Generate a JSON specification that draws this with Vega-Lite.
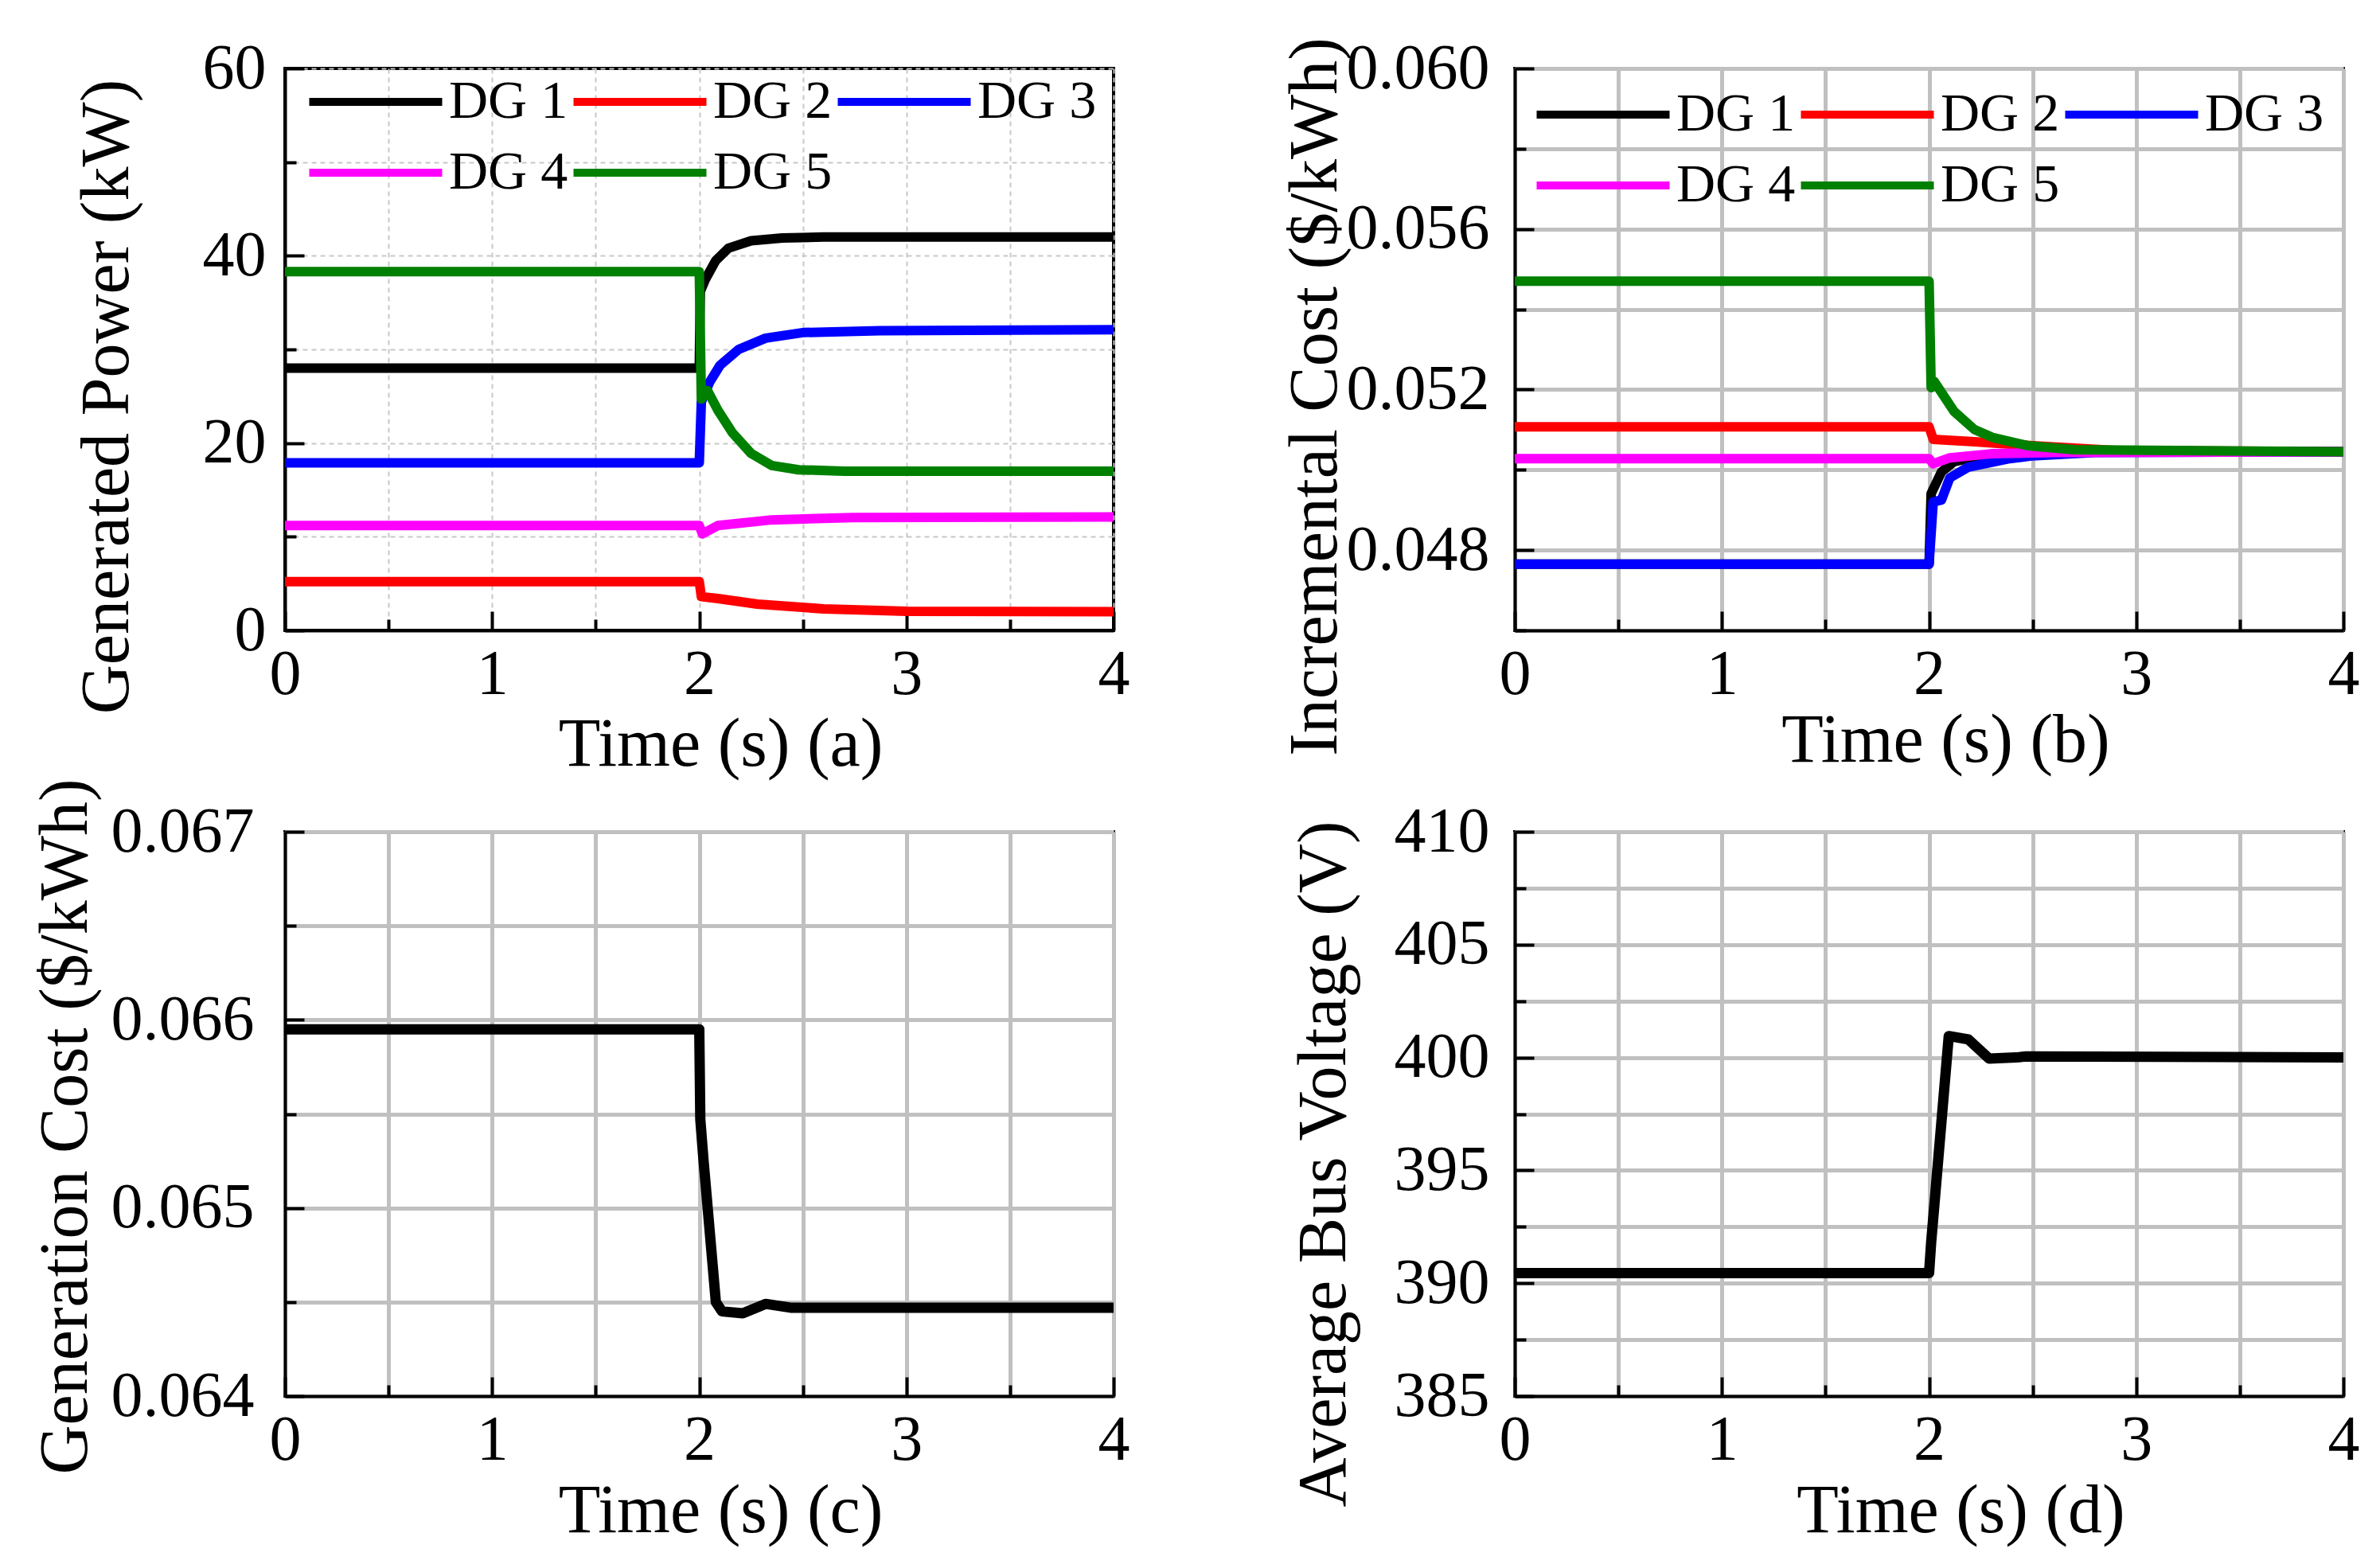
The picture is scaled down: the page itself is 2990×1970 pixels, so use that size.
{
  "$schema": "https://vega.github.io/schema/vega-lite/v6.json",
  "background": "white",
  "autosize": {"type": "none"},
  "padding": {"left": 358, "top": 86, "right": 2632, "bottom": 1884},
  "datasets": {
    "power": [
      {"t": 0, "dg": "DG 1", "v": 28.0}, {"t": 2.0, "dg": "DG 1", "v": 28.0}, {"t": 2.005, "dg": "DG 1", "v": 36.2},
      {"t": 2.03, "dg": "DG 1", "v": 37.5}, {"t": 2.08, "dg": "DG 1", "v": 39.5}, {"t": 2.14, "dg": "DG 1", "v": 40.8},
      {"t": 2.25, "dg": "DG 1", "v": 41.6}, {"t": 2.4, "dg": "DG 1", "v": 41.9}, {"t": 2.6, "dg": "DG 1", "v": 42.0},
      {"t": 4, "dg": "DG 1", "v": 42.0},
      {"t": 0, "dg": "DG 2", "v": 5.2}, {"t": 2.0, "dg": "DG 2", "v": 5.2}, {"t": 2.01, "dg": "DG 2", "v": 3.6},
      {"t": 2.09, "dg": "DG 2", "v": 3.4}, {"t": 2.28, "dg": "DG 2", "v": 2.8}, {"t": 2.6, "dg": "DG 2", "v": 2.3},
      {"t": 3.0, "dg": "DG 2", "v": 2.05}, {"t": 4, "dg": "DG 2", "v": 2.0},
      {"t": 0, "dg": "DG 3", "v": 17.9}, {"t": 2.0, "dg": "DG 3", "v": 17.9}, {"t": 2.01, "dg": "DG 3", "v": 24.4},
      {"t": 2.05, "dg": "DG 3", "v": 26.5}, {"t": 2.1, "dg": "DG 3", "v": 28.3}, {"t": 2.19, "dg": "DG 3", "v": 30.0},
      {"t": 2.32, "dg": "DG 3", "v": 31.2}, {"t": 2.5, "dg": "DG 3", "v": 31.8}, {"t": 2.87, "dg": "DG 3", "v": 32.0},
      {"t": 4, "dg": "DG 3", "v": 32.1},
      {"t": 0, "dg": "DG 4", "v": 11.2}, {"t": 2.0, "dg": "DG 4", "v": 11.2}, {"t": 2.015, "dg": "DG 4", "v": 10.3},
      {"t": 2.09, "dg": "DG 4", "v": 11.2}, {"t": 2.35, "dg": "DG 4", "v": 11.8}, {"t": 2.74, "dg": "DG 4", "v": 12.05},
      {"t": 4, "dg": "DG 4", "v": 12.1},
      {"t": 0, "dg": "DG 5", "v": 38.3}, {"t": 2.0, "dg": "DG 5", "v": 38.3}, {"t": 2.01, "dg": "DG 5", "v": 24.7},
      {"t": 2.04, "dg": "DG 5", "v": 25.6}, {"t": 2.09, "dg": "DG 5", "v": 23.5}, {"t": 2.16, "dg": "DG 5", "v": 21.1},
      {"t": 2.25, "dg": "DG 5", "v": 18.9}, {"t": 2.35, "dg": "DG 5", "v": 17.6}, {"t": 2.48, "dg": "DG 5", "v": 17.15},
      {"t": 2.7, "dg": "DG 5", "v": 17.0}, {"t": 4, "dg": "DG 5", "v": 17.0}
    ],
    "icost": [
      {"t": 0, "dg": "DG 1", "v": 0.04765}, {"t": 2.0, "dg": "DG 1", "v": 0.04765}, {"t": 2.01, "dg": "DG 1", "v": 0.04941},
      {"t": 2.06, "dg": "DG 1", "v": 0.04995}, {"t": 2.12, "dg": "DG 1", "v": 0.0502}, {"t": 2.25, "dg": "DG 1", "v": 0.05035},
      {"t": 2.5, "dg": "DG 1", "v": 0.05045}, {"t": 4, "dg": "DG 1", "v": 0.05045},
      {"t": 0, "dg": "DG 2", "v": 0.05107}, {"t": 2.0, "dg": "DG 2", "v": 0.05107}, {"t": 2.02, "dg": "DG 2", "v": 0.05076},
      {"t": 2.22, "dg": "DG 2", "v": 0.0507}, {"t": 2.5, "dg": "DG 2", "v": 0.0506}, {"t": 2.9, "dg": "DG 2", "v": 0.05048},
      {"t": 4, "dg": "DG 2", "v": 0.05045},
      {"t": 0, "dg": "DG 3", "v": 0.04765}, {"t": 2.0, "dg": "DG 3", "v": 0.04765}, {"t": 2.02, "dg": "DG 3", "v": 0.0492},
      {"t": 2.06, "dg": "DG 3", "v": 0.04925}, {"t": 2.1, "dg": "DG 3", "v": 0.0498}, {"t": 2.19, "dg": "DG 3", "v": 0.05007},
      {"t": 2.38, "dg": "DG 3", "v": 0.05027}, {"t": 2.5, "dg": "DG 3", "v": 0.05035}, {"t": 2.8, "dg": "DG 3", "v": 0.05043},
      {"t": 4, "dg": "DG 3", "v": 0.05045},
      {"t": 0, "dg": "DG 4", "v": 0.05028}, {"t": 2.0, "dg": "DG 4", "v": 0.05028}, {"t": 2.02, "dg": "DG 4", "v": 0.05015},
      {"t": 2.1, "dg": "DG 4", "v": 0.0503}, {"t": 2.3, "dg": "DG 4", "v": 0.0504}, {"t": 2.6, "dg": "DG 4", "v": 0.05043},
      {"t": 4, "dg": "DG 4", "v": 0.05045},
      {"t": 0, "dg": "DG 5", "v": 0.0547}, {"t": 2.0, "dg": "DG 5", "v": 0.0547}, {"t": 2.01, "dg": "DG 5", "v": 0.05205},
      {"t": 2.025, "dg": "DG 5", "v": 0.0522}, {"t": 2.12, "dg": "DG 5", "v": 0.05146}, {"t": 2.22, "dg": "DG 5", "v": 0.0510},
      {"t": 2.31, "dg": "DG 5", "v": 0.0508}, {"t": 2.48, "dg": "DG 5", "v": 0.0506}, {"t": 2.7, "dg": "DG 5", "v": 0.0505},
      {"t": 4, "dg": "DG 5", "v": 0.05045}
    ],
    "gcost": [
      {"t": 0, "v": 0.06595}, {"t": 2.0, "v": 0.06595}, {"t": 2.005, "v": 0.06547}, {"t": 2.02, "v": 0.06526},
      {"t": 2.08, "v": 0.0645}, {"t": 2.11, "v": 0.06445}, {"t": 2.21, "v": 0.06444}, {"t": 2.32, "v": 0.06449},
      {"t": 2.44, "v": 0.06447}, {"t": 4, "v": 0.06447}
    ],
    "voltage": [
      {"t": 0, "v": 390.45}, {"t": 2.0, "v": 390.45}, {"t": 2.01, "v": 391.8}, {"t": 2.095, "v": 400.95},
      {"t": 2.19, "v": 400.8}, {"t": 2.29, "v": 399.95}, {"t": 2.42, "v": 400.0}, {"t": 2.47, "v": 400.05},
      {"t": 4, "v": 400.0}
    ]
  },
  "columns": 2,
  "bounds": "flush",
  "spacing": {"row": 253, "column": 504},
  "resolve": {"scale": {"color": "independent"}, "legend": {"color": "independent"}},
  "concat": [
    {
      "width": 1041,
      "height": 706,
      "data": {"name": "power"},
      "mark": {"type": "line", "strokeWidth": 12},
      "encoding": {
        "x": {
          "field": "t", "type": "quantitative",
          "scale": {"domain": [0, 4], "nice": false, "zero": false},
          "axis": {"title": "Time (s)  (a)", "titleX": 547, "titleY": 143,
                   "values": [0, 0.5, 1, 1.5, 2, 2.5, 3, 3.5, 4],
                   "gridDash": [6, 5], "gridWidth": 2, "gridColor": "#c8c8c8"}
        },
        "y": {
          "field": "v", "type": "quantitative",
          "scale": {"domain": [0, 60], "nice": false, "zero": false},
          "axis": {"title": "Generated Power (kW)", "titleX": -224, "titleY": 412,
                   "values": [0, 10, 20, 30, 40, 50, 60],
                   "labelExpr": "datum.value % 20 == 0 ? format(datum.value, 'd') : ''",
                   "tickSize": {"condition": {"test": "datum.value % 20 == 0", "value": -24}, "value": -14},
                   "labelPadding": 48,
                   "gridDash": [6, 5], "gridWidth": 2, "gridColor": "#c8c8c8"}
        },
        "color": {
          "field": "dg", "type": "nominal",
          "scale": {"domain": ["DG 1", "DG 2", "DG 3", "DG 4", "DG 5"],
                    "range": ["#000000", "#ff0000", "#0000ff", "#ff00ff", "#008000"]},
          "legend": {"orient": "none", "legendX": 67, "legendY": -5}
        }
      }
    },
    {
      "width": 1041,
      "height": 706,
      "data": {"name": "icost"},
      "mark": {"type": "line", "strokeWidth": 12},
      "encoding": {
        "x": {
          "field": "t", "type": "quantitative",
          "scale": {"domain": [0, 4], "nice": false, "zero": false},
          "axis": {"title": "Time (s) (b)", "titleX": 541, "titleY": 138,
                   "values": [0, 0.5, 1, 1.5, 2, 2.5, 3, 3.5, 4]}
        },
        "y": {
          "field": "v", "type": "quantitative",
          "scale": {"domain": [0.046, 0.06], "nice": false, "zero": false},
          "axis": {"title": "Incremental Cost ($/kWh)", "titleX": -251, "titleY": 412,
                   "values": [0.046, 0.048, 0.05, 0.052, 0.054, 0.056, 0.058, 0.06],
                   "labelExpr": "indexof(['0.048','0.052','0.056','0.060'], format(datum.value, '.3f')) >= 0 ? format(datum.value, '.3f') : ''",
                   "tickSize": {"condition": {"test": "indexof(['0.048','0.052','0.056','0.060'], format(datum.value, '.3f')) >= 0", "value": -24}, "value": -14}}
        },
        "color": {
          "field": "dg", "type": "nominal",
          "scale": {"domain": ["DG 1", "DG 2", "DG 3", "DG 4", "DG 5"],
                    "range": ["#000000", "#ff0000", "#0000ff", "#ff00ff", "#008000"]},
          "legend": {"orient": "none", "legendX": 64, "legendY": 11}
        }
      }
    },
    {
      "width": 1041,
      "height": 709,
      "data": {"name": "gcost"},
      "mark": {"type": "line", "strokeWidth": 13, "color": "black"},
      "encoding": {
        "x": {
          "field": "t", "type": "quantitative",
          "scale": {"domain": [0, 4], "nice": false, "zero": false},
          "axis": {"title": "Time (s) (c)", "titleX": 547, "titleY": 144,
                   "values": [0, 0.5, 1, 1.5, 2, 2.5, 3, 3.5, 4]}
        },
        "y": {
          "field": "v", "type": "quantitative",
          "scale": {"domain": [0.064, 0.067], "nice": false, "zero": false},
          "axis": {"title": "Generation Cost ($/kWh)", "titleX": -276, "titleY": 370,
                   "values": [0.064, 0.0645, 0.065, 0.0655, 0.066, 0.0665, 0.067],
                   "labelExpr": "indexof(['0.0640','0.0650','0.0660','0.0670'], format(datum.value, '.4f')) >= 0 ? format(datum.value, '.3f') : ''",
                   "tickSize": {"condition": {"test": "indexof(['0.0640','0.0650','0.0660','0.0670'], format(datum.value, '.4f')) >= 0", "value": -24}, "value": -14},
                   "labelPadding": 63}
        }
      }
    },
    {
      "width": 1041,
      "height": 709,
      "data": {"name": "voltage"},
      "mark": {"type": "line", "strokeWidth": 13, "color": "black"},
      "encoding": {
        "x": {
          "field": "t", "type": "quantitative",
          "scale": {"domain": [0, 4], "nice": false, "zero": false},
          "axis": {"title": "Time (s) (d)", "titleX": 560, "titleY": 144,
                   "values": [0, 0.5, 1, 1.5, 2, 2.5, 3, 3.5, 4]}
        },
        "y": {
          "field": "v", "type": "quantitative",
          "scale": {"domain": [385, 410], "nice": false, "zero": false},
          "axis": {"title": "Average Bus Voltage (V)", "titleX": -240, "titleY": 417,
                   "values": [385, 387.5, 390, 392.5, 395, 397.5, 400, 402.5, 405, 407.5, 410],
                   "labelExpr": "datum.value % 5 == 0 ? format(datum.value, 'd') : ''",
                   "tickSize": {"condition": {"test": "datum.value % 5 == 0", "value": -24}, "value": -14}}
        }
      }
    }
  ],
  "config": {
    "font": "Liberation Serif",
    "view": {"stroke": "black", "strokeWidth": 4},
    "line": {"strokeJoin": "round", "strokeCap": "butt"},
    "style": {
      "guide-label": {"font": "Liberation Serif", "fill": "black"},
      "guide-title": {"font": "Liberation Serif", "fill": "black"}
    },
    "axis": {
      "labelFontSize": 80,
      "labelColor": "black",
      "labelFont": "Liberation Serif",
      "labelLimit": 1000,
      "labelOverlap": false,
      "labelFlush": false,
      "titleFontSize": 86,
      "titleFont": "Liberation Serif",
      "titleFontWeight": "normal",
      "titleColor": "black",
      "titleAlign": "center",
      "titleBaseline": "middle",
      "titleLimit": 2000,
      "domainColor": "black",
      "domainWidth": 4,
      "tickColor": "black",
      "tickWidth": 4,
      "grid": true,
      "gridColor": "#c0c0c0",
      "gridWidth": 5
    },
    "axisX": {
      "labelExpr": "datum.value % 1 == 0 ? format(datum.value, 'd') : ''",
      "tickSize": {"condition": {"test": "datum.value % 1 == 0", "value": -24}, "value": -14},
      "labelPadding": 40,
      "labelBaseline": "top"
    },
    "axisY": {
      "labelPadding": 56,
      "labelAlign": "right",
      "labelBaseline": "middle"
    },
    "legend": {
      "title": null,
      "columns": 3,
      "direction": "horizontal",
      "symbolType": "M-2,0L2,0",
      "symbolSize": 6972,
      "symbolStrokeWidth": 10,
      "labelFontSize": 68,
      "labelFont": "Liberation Serif",
      "labelColor": "black",
      "labelLimit": 1000,
      "labelOffset": 45,
      "columnPadding": 1,
      "rowPadding": 8,
      "padding": 0
    }
  }
}
